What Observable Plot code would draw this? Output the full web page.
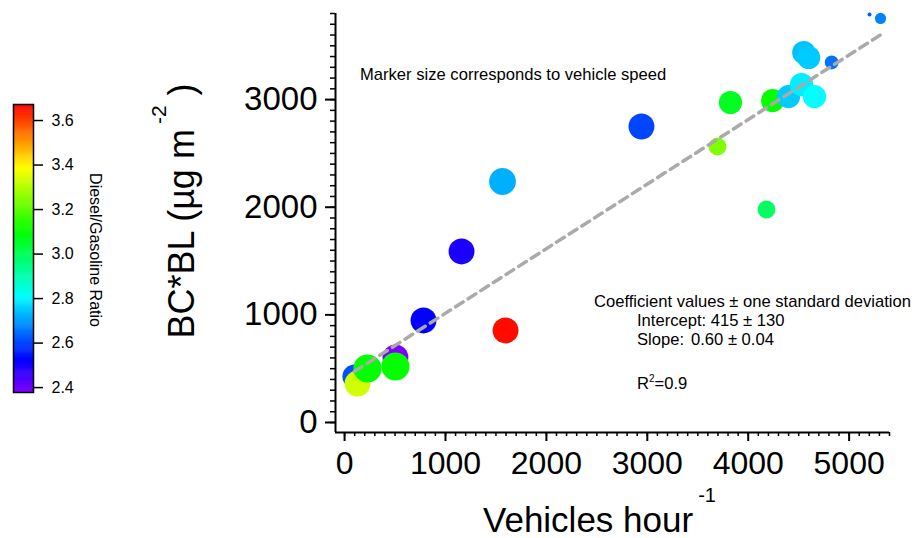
<!DOCTYPE html>
<html>
<head>
<meta charset="utf-8">
<script src="https://cdn.jsdelivr.net/npm/d3@7"></script>
<script src="https://cdn.jsdelivr.net/npm/@observablehq/plot@0.6"></script>
<style>
  html, body { margin: 0; padding: 0; background: #fff; }
  #wrap { position: relative; width: 916px; height: 538px; overflow: hidden; font-family: "Liberation Sans", Arial, sans-serif; color: #000; }
  #wrap > svg, #wrap > figure { position: absolute; left: 0; top: 0; margin: 0; }
  .t { position: absolute; white-space: nowrap; line-height: 1; }
  .sup { position: relative; }
</style>
</head>
<body>
<div id="wrap"></div>
<script>
// ---- Data ----
const vehicles = [98, 128, 227, 504, 504, 782, 1595, 1159, 1565, 2942, 3696, 4181, 3824, 4241, 4399, 4528, 4657, 4550, 4599, 4827, 5311, 5202];
const bcbl     = [427, 362, 502, 604, 520, 948, 855, 1589, 2239, 2750, 2564, 1979, 2973, 2991, 3028, 3140, 3028, 3437, 3391, 3345, 3754, 3791];
const speed    = [54, 58, 63, 58, 63, 58, 58, 58, 60, 58, 40, 40, 52, 52, 52, 52, 52, 52, 52, 31, 25, 9];
const ratio    = [2.61, 3.33, 3.10, 2.38, 3.10, 2.52, 3.66, 2.49, 2.72, 2.60, 3.24, 2.99, 3.06, 3.10, 2.75, 2.79, 2.81, 2.74, 2.75, 2.65, 2.67, 2.63];

const xTicks = [0, 1000, 2000, 3000, 4000, 5000];
const yTicks = [0, 1000, 2000, 3000];
const ratioTicks = [2.4, 2.6, 2.8, 3.0, 3.2, 3.4, 3.6];
const fitIntercept = 415;
const fitSlope = 0.60;

// ---- Scales config ----
const xDomain = [-90, 5400];
const yDomain = [-93, 3800];
const ratioDomain = [2.378, 3.672];
const colorStops = [2.378, 2.522, 2.809, 3.097, 3.384, 3.672];
const colorRange = ["#8000ff", "#0000ff", "#00ffff", "#00ff00", "#ffff00", "#ff0000"];
const colorCfg = {type: "linear", domain: colorStops, range: colorRange, interpolate: "rgb"};

const points = vehicles.map((v, i) => ({vehicles: v, bcbl: bcbl[i], speed: speed[i], ratio: ratio[i]}));
const fit = d3.extent(vehicles).map(x => ({x, y: fitIntercept + fitSlope * x}));
const xMinor = d3.range(0, xDomain[1] + 1, 100);
const yMinor = d3.range(0, yDomain[1] + 1, 100);

const font = "'Liberation Sans', Arial, sans-serif";

const main = Plot.plot({
  width: 916, height: 538,
  marginLeft: 335, marginRight: 27, marginTop: 13, marginBottom: 106,
  x: {domain: xDomain},
  y: {domain: yDomain},
  r: {type: "linear", domain: [0, 65], range: [0, 14.5]},
  color: colorCfg,
  style: {fontFamily: font, color: "#000", background: "transparent", overflow: "visible"},
  marks: [
    Plot.dot(points, {x: "vehicles", y: "bcbl", r: "speed", fill: "ratio", stroke: "none", sort: null}),
    Plot.line(fit, {x: "x", y: "y", stroke: "#aaaaaa", strokeWidth: 3.5, strokeDasharray: "9,6"}),
    Plot.ruleX([xDomain[0]], {stroke: "#000", strokeWidth: 2}),
    Plot.ruleY([yDomain[0]], {stroke: "#000", strokeWidth: 2}),
    Plot.axisX({ticks: xMinor, tickSize: 4, tickFormat: () => "", strokeWidth: 1.5, label: null}),
    Plot.axisX({ticks: xTicks, tickSize: 9, tickPadding: 10, tickFormat: "d", fontSize: 32, strokeWidth: 2, label: null}),
    Plot.axisY({ticks: yMinor, tickSize: 5, tickFormat: () => "", strokeWidth: 1.5, label: null}),
    Plot.axisY({ticks: yTicks, tickSize: 10, tickPadding: 8, tickFormat: "d", fontSize: 33, strokeWidth: 2, label: null})
  ]
});

const nStrips = 300;
const strips = d3.range(nStrips).map(i => {
  const a = ratioDomain[0] + (ratioDomain[1] - ratioDomain[0]) * i / nStrips;
  const b = ratioDomain[0] + (ratioDomain[1] - ratioDomain[0]) * (i + 1.6) / nStrips;
  return {y1: a, y2: Math.min(b, ratioDomain[1]), v: ratioDomain[0] + (ratioDomain[1] - ratioDomain[0]) * (i + 0.5) / nStrips};
});

const bar = Plot.plot({
  width: 140, height: 400,
  marginLeft: 13, marginRight: 107, marginTop: 104, marginBottom: 8,
  x: {domain: [0, 1], axis: null},
  y: {domain: ratioDomain},
  color: colorCfg,
  style: {fontFamily: font, color: "#000", background: "transparent", overflow: "visible"},
  marks: [
    Plot.rect(strips, {x1: 0, x2: 1, y1: "y1", y2: "y2", fill: "v"}),
    Plot.frame({stroke: "#000", strokeWidth: 1.5}),
    Plot.axisY({anchor: "right", ticks: ratioTicks, tickFormat: d3.format(".1f"), tickSize: 9, tickPadding: 9, fontSize: 16, strokeWidth: 1.5, label: null})
  ]
});

const wrap = document.getElementById("wrap");
wrap.appendChild(main);
wrap.appendChild(bar);

function addText(html, x, baseline, size, extra) {
  const d = document.createElement("div");
  d.className = "t";
  d.style.left = x + "px";
  d.style.top = (baseline - 0.8465 * size) + "px";
  d.style.fontSize = size + "px";
  if (extra) Object.assign(d.style, extra);
  d.innerHTML = html;
  wrap.appendChild(d);
  return d;
}

addText("Marker size corresponds to vehicle speed", 360, 81.5, 16.6);
addText("Coefficient values \u00b1 one standard deviation", 594, 308, 16.6);
addText("Intercept: 415 \u00b1 130", 637, 327, 16.6);
addText("Slope:", 637, 346, 16.6);
addText("0.60 \u00b1 0.04", 691, 346, 16.6);
addText('R<span class="sup" style="font-size:10px;top:-7px">2</span>=0.9', 637, 390, 16.6);

// x-axis title
addText('Vehicles hour<span class="sup" style="font-size:20px;top:-30px;margin-left:5px">-1</span>', 483, 532, 35);

// y-axis title (rotated)
const yt = document.createElement("div");
yt.className = "t";
yt.style.fontSize = "36px";
yt.style.left = "182px";
yt.style.top = "211px";
yt.style.transform = "translate(-50%, -50%) rotate(-90deg)";
yt.innerHTML = 'BC*BL (\u00b5g m<span class="sup" style="font-size:21px;top:-28px;margin-left:5px">-2</span>&nbsp;)';
wrap.appendChild(yt);

// colorbar title (rotated)
const ct = document.createElement("div");
ct.className = "t";
ct.style.fontSize = "16px";
ct.style.left = "95px";
ct.style.top = "250px";
ct.style.transform = "translate(-50%, -50%) rotate(90deg)";
ct.textContent = "Diesel/Gasoline Ratio";
wrap.appendChild(ct);
</script>
</body>
</html>
